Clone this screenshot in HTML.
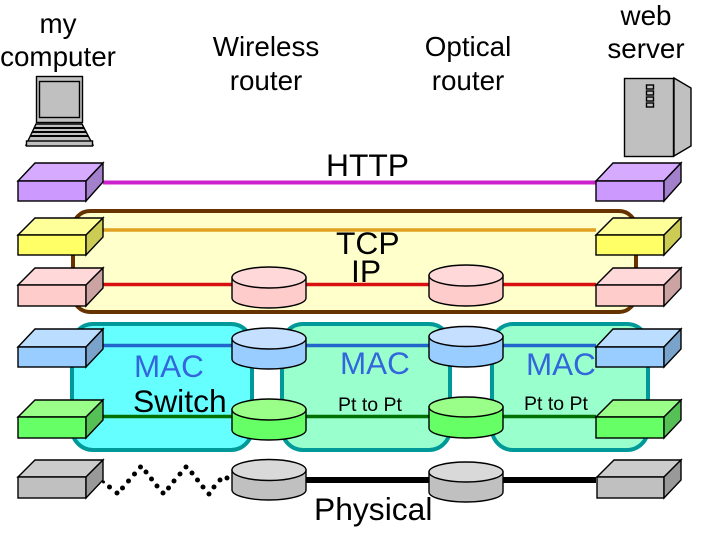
<!DOCTYPE html>
<html><head><meta charset="utf-8"><style>
html,body{margin:0;padding:0;background:#fff}
svg{display:block}
text{font-family:"Liberation Sans",sans-serif;fill:#000}
.t{font-size:27.8px;text-anchor:middle}
.b{font-size:31.8px}
.m{font-size:31.4px;fill:#3366dd}
.p{font-size:19.5px}
.o{stroke:#000;stroke-width:1.4;stroke-linejoin:miter}
</style></head><body>
<svg width="720" height="540" viewBox="0 0 720 540" xmlns="http://www.w3.org/2000/svg">
<rect width="720" height="540" fill="#fff"/>
<text class="t" x="58" y="33">my</text>
<text class="t" x="58" y="66">computer</text>
<text class="t" x="266" y="56">Wireless</text>
<text class="t" x="266" y="90">router</text>
<text class="t" x="468" y="56">Optical</text>
<text class="t" x="468" y="90">router</text>
<text class="t" x="646" y="25">web</text>
<text class="t" x="646" y="58">server</text>

<!-- laptop -->
<g class="o" fill="#c0c0c0">
<rect x="36.500" y="76.500" width="46" height="46"/>
<rect x="39.500" y="81.500" width="40" height="36"/>
<path d="M36 124H82L93 145V145H26V145Z"/>
<rect x="26.500" y="141" width="66" height="5"/>
</g>
<path d="M34 128H84M32 132H86M30 136H88" stroke="#000" stroke-width="2"/>
<path d="M44 136H75" stroke="#000" stroke-width="2"/>

<!-- server -->
<g class="o" fill="#c0c0c0">
<rect x="624.500" y="78.500" width="49" height="78"/>
<path d="M674 78L691 88V146L674 156Z"/>
<rect x="646.500" y="85" width="7" height="4" fill="none"/>
<rect x="646.500" y="91" width="7" height="4" fill="none"/>
<rect x="646.500" y="97" width="7" height="4" fill="none"/>
<rect x="646.500" y="103" width="7" height="4" fill="none"/>
</g>

<!-- panels -->
<rect x="73" y="211" width="563" height="101" rx="17" fill="#ffffcc" stroke="#663300" stroke-width="4"/>
<rect x="72" y="324" width="180" height="126" rx="21" fill="#66ffff" stroke="#009999" stroke-width="4"/>
<rect x="282" y="324" width="168" height="126" rx="21" fill="#99ffcc" stroke="#009999" stroke-width="4"/>
<rect x="492" y="324" width="156" height="126" rx="21" fill="#99ffcc" stroke="#009999" stroke-width="4"/>

<!-- lines -->
<path d="M103 182.500H596" stroke="#cc22cc" stroke-width="4"/>
<path d="M103 230H596" stroke="#e0a020" stroke-width="3.600"/>
<path d="M103 284.500H596" stroke="#d81010" stroke-width="3.600"/>
<path d="M103 345.500H596" stroke="#2266cc" stroke-width="3.600"/>
<path d="M103 416.500H596" stroke="#007000" stroke-width="3.600"/>
<path d="M306 480H596" stroke="#000" stroke-width="6"/>

<!-- dots -->
<g fill="#000">
<circle cx="103.500" cy="482" r="1.500"/><circle cx="109.500" cy="487" r="2.500"/><circle cx="117" cy="493" r="2.500"/><circle cx="122.500" cy="488" r="2.500"/><circle cx="128.500" cy="481" r="2.500"/><circle cx="134.500" cy="474" r="2.500"/><circle cx="140.500" cy="467" r="2.500"/><circle cx="146" cy="472" r="2.500"/><circle cx="151.500" cy="479" r="2.500"/><circle cx="157" cy="486" r="2.500"/><circle cx="163" cy="493" r="2.500"/><circle cx="168.500" cy="488" r="2.500"/><circle cx="174" cy="481" r="2.500"/><circle cx="180" cy="474" r="2.500"/><circle cx="186" cy="467" r="2.500"/><circle cx="192" cy="473" r="2.500"/><circle cx="197.500" cy="480" r="2.500"/><circle cx="203" cy="487" r="2.500"/><circle cx="209" cy="494" r="2.500"/><circle cx="214" cy="487" r="2.500"/><circle cx="220" cy="480" r="2.500"/><circle cx="227" cy="478" r="2.500"/>
</g>

<!-- labels -->
<text class="b" x="326" y="176">HTTP</text>
<text class="b" x="336" y="254">TCP</text>
<text class="b" x="351" y="282">IP</text>
<text class="m" x="134" y="377">MAC</text>
<text class="b" x="133" y="412">Switch</text>
<text class="m" x="340" y="374">MAC</text>
<text class="p" x="338" y="411">Pt to Pt</text>
<text class="m" x="526" y="375">MAC</text>
<text class="p" x="524" y="410">Pt to Pt</text>
<text class="b" x="314" y="520">Physical</text>

<!-- left boxes -->
<g class="o">
<path d="M18 181L35 163H103L86 181Z" fill="#d5aaff"/><rect x="18" y="181" width="68" height="20" fill="#cc99ff"/><path d="M86 181L103 163V182L86 201Z" fill="#a380cc"/>
<path d="M18 235L35 218H103L86 235Z" fill="#ffff99"/><rect x="18" y="235" width="68" height="20" fill="#ffff66"/><path d="M86 235L103 218V237L86 255Z" fill="#cccc55"/>
<path d="M18 285L35 268H103L86 285Z" fill="#ffd9d9"/><rect x="18" y="285" width="68" height="21" fill="#ffcccc"/><path d="M86 285L103 268V288L86 306Z" fill="#cca3a3"/>
<path d="M18 347L35 329H103L86 347Z" fill="#bbddff"/><rect x="18" y="347" width="68" height="20" fill="#99ccff"/><path d="M86 347L103 329V349L86 367Z" fill="#7aa3cc"/>
<path d="M18 417L35 400H103L86 417Z" fill="#99ff88"/><rect x="18" y="417" width="68" height="21" fill="#66ff66"/><path d="M86 417L103 400V420L86 438Z" fill="#55c055"/>
<path d="M18 477L35 460H103L86 477Z" fill="#cccccc"/><rect x="18" y="477" width="68" height="21" fill="#c0c0c0"/><path d="M86 477L103 460V480L86 498Z" fill="#999999"/>
</g>
<!-- right boxes -->
<g class="o">
<path d="M596 181L613 163H681L664 181Z" fill="#d5aaff"/><rect x="596" y="181" width="68" height="20" fill="#cc99ff"/><path d="M664 181L681 163V182L664 201Z" fill="#a380cc"/>
<path d="M596 235L613 218H681L664 235Z" fill="#ffff99"/><rect x="596" y="235" width="68" height="20" fill="#ffff66"/><path d="M664 235L681 218V237L664 255Z" fill="#cccc55"/>
<path d="M596 285L613 268H681L664 285Z" fill="#ffd9d9"/><rect x="596" y="285" width="68" height="21" fill="#ffcccc"/><path d="M664 285L681 268V288L664 306Z" fill="#cca3a3"/>
<path d="M596 347L613 329H681L664 347Z" fill="#bbddff"/><rect x="596" y="347" width="68" height="20" fill="#99ccff"/><path d="M664 347L681 329V349L664 367Z" fill="#7aa3cc"/>
<path d="M596 417L613 400H681L664 417Z" fill="#99ff88"/><rect x="596" y="417" width="68" height="21" fill="#66ff66"/><path d="M664 417L681 400V420L664 438Z" fill="#55c055"/>
<path d="M597 477L614 460H681L664 477Z" fill="#cccccc"/><rect x="597" y="477" width="67" height="21" fill="#c0c0c0"/><path d="M664 477L681 460V480L664 498Z" fill="#999999"/>
</g>

<!-- cylinders -->
<g class="o">
<path d="M232 277.500V298A37 10 0 0 0 306 298V277.500Z" fill="#ffcccc"/><ellipse cx="269" cy="277.500" rx="37" ry="10.500" fill="#ffd9d9"/>
<path d="M232 339V359A37 10 0 0 0 306 359V339Z" fill="#99ccff"/><ellipse cx="269" cy="338.500" rx="37" ry="10.500" fill="#c4dfff"/>
<path d="M232 409.500V430A37 10 0 0 0 306 430V409.500Z" fill="#66ff66"/><ellipse cx="269" cy="409.500" rx="37" ry="10.500" fill="#99ff88"/>
<path d="M232 470V490A37 10 0 0 0 306 490V470Z" fill="#c0c0c0"/><ellipse cx="269" cy="470" rx="37" ry="10.500" fill="#d9d9d9"/>

<path d="M429 275.500V296A37 10 0 0 0 503 296V275.500Z" fill="#ffcccc"/><ellipse cx="466" cy="275.500" rx="37" ry="10.500" fill="#ffd9d9"/>
<path d="M429 336.500V357A37 10 0 0 0 503 357V336.500Z" fill="#99ccff"/><ellipse cx="466" cy="336.500" rx="37" ry="10" fill="#c4dfff"/>
<path d="M429 407V428A37 10 0 0 0 503 428V407Z" fill="#66ff66"/><ellipse cx="466" cy="407" rx="37" ry="10" fill="#99ff88"/>
<path d="M429 472V492A37 10 0 0 0 503 492V472Z" fill="#c0c0c0"/><ellipse cx="466" cy="472" rx="37" ry="10" fill="#d9d9d9"/>
</g>
</svg>
</body></html>
